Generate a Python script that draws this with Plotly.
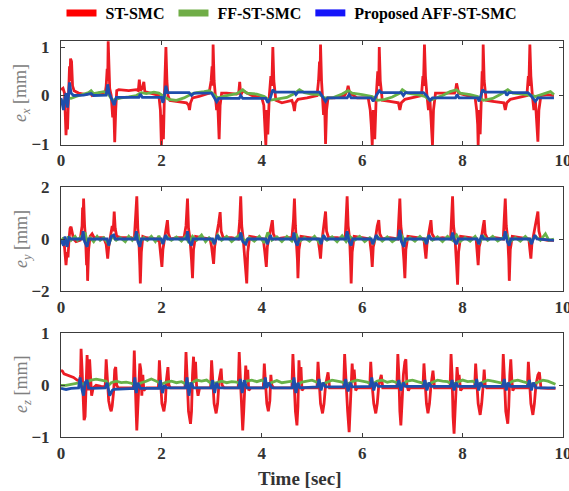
import plotly.graph_objects as go

# ---------------- data ----------------
# e_x panel
ex_red_t = [0.00,0.04,0.07,0.08,0.10,0.115,0.13,0.15,0.17,0.18,0.19,0.21,0.23,0.26,0.35,0.50,0.58,0.62,0.75,0.88,
            0.90,0.92,0.93,0.94,0.955,0.97,1.00,1.03,1.05,1.07,1.09,1.11,1.15,1.35,1.50,1.54,1.56,1.58,1.62,1.65,
            1.67,1.80,1.95,1.98,2.00,2.02,2.04,2.06,2.08,2.09,2.11,2.13,2.17,2.30,2.50,2.54,2.56,2.58,2.62,2.75,
            2.95,2.99,3.01,3.02,3.03,3.05,3.07,3.10,3.12,3.15,3.17,3.20,3.30,3.50,3.54,3.56,3.58,3.62,3.80,4.00,
            4.04,4.06,4.08,4.10,4.12,4.15,4.18,4.20,4.22,4.24,4.28,4.40,4.60,4.63,4.65,4.67,4.72,4.90,5.10,5.13,
            5.15,5.16,5.17,5.19,5.21,5.23,5.25,5.27,5.29,5.32,5.45,5.65,5.70,5.72,5.75,5.90,6.12,6.16,6.18,6.20,
            6.22,6.25,6.28,6.31,6.33,6.34,6.36,6.40,6.55,6.72,6.75,6.78,6.85,7.00,7.18,7.21,7.22,7.24,7.26,7.29,
            7.32,7.35,7.38,7.40,7.42,7.46,7.60,7.84,7.86,7.88,7.92,8.10,8.25,8.28,8.30,8.31,8.33,8.35,8.37,8.39,
            8.40,8.41,8.43,8.47,8.60,8.82,8.85,8.88,8.95,9.10,9.28,9.31,9.32,9.34,9.36,9.39,9.42,9.45,9.48,9.50,
            9.52,9.56,9.70,9.82]
ex_red_v = [0.12,0.15,0.05,-0.3,-0.82,-0.4,-0.7,0.0,0.6,0.3,0.76,0.7,0.2,0.1,0.05,0.02,0.06,0.0,0.05,0.05,
            0.2,0.55,0.3,1.12,0.4,0.15,0.0,-0.45,-0.2,-0.96,-0.3,0.1,0.12,0.1,0.12,0.1,0.33,0.1,0.15,0.28,
            0.08,0.05,0.0,-0.3,-1.02,-0.4,-0.9,0.0,0.6,1.0,0.3,0.0,-0.1,-0.12,-0.15,-0.2,-0.3,-0.15,-0.05,-0.02,
            0.05,0.3,0.6,0.2,1.05,0.3,0.0,-0.3,-0.1,-0.9,-0.2,0.05,0.05,0.03,0.05,0.28,0.0,0.1,0.0,-0.05,
            -0.2,-0.5,-1.02,-0.3,-0.8,0.0,0.4,0.2,1.0,0.3,-0.1,-0.15,-0.1,-0.2,-0.32,-0.15,-0.08,-0.05,0.0,0.3,
            0.7,0.3,1.05,0.3,0.0,-0.4,-0.1,-1.0,-0.3,-0.05,-0.05,0.0,0.1,0.2,0.05,-0.05,-0.05,-0.3,-0.6,-1.02,
            -0.3,-0.9,0.0,0.5,0.2,1.0,0.3,-0.1,-0.12,-0.15,-0.3,-0.15,-0.08,-0.05,0.0,0.4,0.2,1.05,0.4,0.0,
            -0.3,-0.1,-0.6,-1.02,-0.3,0.05,0.05,0.05,0.1,0.25,0.05,0.0,-0.05,-0.3,-0.6,-1.02,-0.3,-0.8,0.0,0.5,
            0.2,1.05,0.3,-0.1,-0.12,-0.15,-0.3,-0.15,-0.08,-0.05,0.0,0.4,0.2,1.05,0.4,0.0,-0.3,-0.1,-0.5,-0.95,
            -0.3,0.0,0.02,0.0]

ex_green_t = [0,0.08,0.12,0.2,0.3,0.45,0.55,0.6,0.65,0.75,0.85,0.95,1.02,1.08,1.2,1.35,1.5,1.6,1.7,1.85,
              1.95,2.05,2.15,2.3,2.45,2.6,2.7,2.85,2.95,3.05,3.12,3.3,3.5,3.62,3.7,3.9,4.05,4.15,4.3,4.5,
              4.65,4.75,4.85,5.0,5.15,5.25,5.4,5.6,5.72,5.8,6.0,6.2,6.3,6.45,6.6,6.75,6.8,6.9,7.1,7.25,
              7.35,7.45,7.6,7.75,7.88,7.95,8.15,8.3,8.42,8.6,8.75,8.9,9.0,9.2,9.35,9.45,9.6,9.75,9.82]
ex_green_v = [-0.1,-0.12,-0.05,-0.06,-0.02,0.03,0.06,0.1,0.04,0.06,0.08,0.02,-0.1,-0.08,-0.05,-0.03,0.0,0.06,0.04,0.07,
              0.05,-0.02,-0.08,-0.1,-0.05,0.03,0.06,0.08,0.1,0.02,-0.05,0.0,0.04,0.12,0.05,0.03,-0.02,-0.1,-0.08,-0.04,
              0.04,0.12,0.06,0.03,0.02,-0.05,-0.05,0.03,0.1,0.05,0.02,-0.02,-0.1,-0.08,-0.03,0.05,0.12,0.05,0.02,-0.02,
              -0.1,-0.06,0.0,0.08,0.12,0.05,0.02,-0.02,-0.1,-0.06,0.02,0.12,0.05,0.03,0.0,-0.02,0.03,0.08,0.02]

ex_blue_t = [0,0.05,0.07,0.10,0.13,0.17,0.20,0.25,0.45,0.60,0.65,0.90,0.93,0.96,1.00,1.06,1.10,1.55,1.58,1.62,
             2.00,2.03,2.06,2.09,2.12,2.55,2.60,2.65,3.00,3.05,3.10,3.14,3.55,3.58,3.62,4.08,4.12,4.17,4.22,4.26,
             4.65,4.68,4.72,5.15,5.18,5.22,5.27,5.31,5.70,5.74,5.78,6.18,6.22,6.28,6.34,6.38,6.78,6.82,6.86,7.22,
             7.28,7.35,7.40,7.86,7.89,7.93,8.30,8.33,8.37,8.40,8.44,8.85,8.88,8.92,9.30,9.36,9.45,9.50,9.82]
ex_blue_v = [-0.05,-0.3,-0.1,0.05,-0.25,0.27,0.05,0.0,0.01,0.04,0.0,0.01,0.23,0.05,-0.05,-0.2,-0.04,-0.04,0.03,-0.04,
             -0.04,-0.15,0.0,0.2,0.06,0.06,0.0,0.05,0.05,-0.05,-0.13,-0.06,-0.06,0.0,-0.06,-0.06,-0.15,-0.05,0.12,0.07,
             0.07,0.02,0.07,0.07,0.02,-0.05,-0.12,-0.05,-0.05,0.02,-0.05,-0.05,-0.12,0.0,0.1,0.06,0.06,0.0,0.06,0.06,
             0.0,-0.1,-0.05,-0.05,0.02,-0.05,-0.05,-0.12,0.0,0.12,0.07,0.07,0.0,0.06,0.06,0.0,-0.12,-0.05,-0.05]

# e_y panel
ey_red_t = [0,0.04,0.07,0.09,0.10,0.12,0.14,0.16,0.18,0.20,0.22,0.25,0.30,0.38,0.42,0.43,0.44,0.45,0.47,0.49,
            0.51,0.52,0.53,0.55,0.58,0.62,0.66,0.85,0.90,0.92,0.93,0.95,0.98,1.02,1.04,1.06,1.08,1.11,1.20,1.40,
            1.46,1.48,1.50,1.51,1.53,1.55,1.57,1.58,1.60,1.63,1.70,1.90,1.96,1.98,2.01,2.03,2.06,2.09,2.12,2.14,
            2.18,2.30,2.45,2.49,2.51,2.52,2.54,2.57,2.60,2.62,2.64,2.68,2.80,2.97,3.00,3.04,3.06,3.10,3.14,3.17,
            3.19,3.23,3.40,3.53,3.56,3.58,3.60,3.63,3.67,3.70,3.72,3.76,3.90,4.03,4.06,4.09,4.11,4.15,4.18,4.21,
            4.23,4.28,4.45,4.60,4.63,4.65,4.67,4.69,4.71,4.72,4.74,4.78,4.95,5.12,5.15,5.17,5.19,5.22,5.25,5.27,
            5.29,5.33,5.50,5.66,5.68,5.70,5.72,5.75,5.77,5.78,5.80,5.84,6.00,6.15,6.18,6.20,6.22,6.27,6.30,6.33,
            6.35,6.40,6.55,6.71,6.73,6.75,6.77,6.80,6.83,6.85,6.87,6.91,7.10,7.23,7.25,7.27,7.29,7.33,7.37,7.39,
            7.45,7.60,7.76,7.78,7.80,7.82,7.85,7.88,7.90,7.92,7.96,8.15,8.27,8.29,8.31,8.33,8.38,8.41,8.43,8.45,
            8.50,8.65,8.81,8.83,8.85,8.87,8.90,8.92,8.93,8.95,8.99,9.15,9.32,9.34,9.36,9.38,9.43,9.47,9.50,9.52,
            9.56,9.70,9.82]
ey_red_v = [-0.1,-0.05,-0.3,-0.9,-1.0,-0.5,-0.7,0.0,0.4,0.47,0.3,0.0,-0.1,-0.05,0.5,1.2,0.6,1.55,0.5,0.0,
            -1.0,-0.5,-1.6,-0.4,0.1,0.2,0.05,0.05,-0.2,-0.5,-0.75,-0.3,0.0,0.5,0.3,1.05,0.4,0.1,0.05,0.05,
            0.0,0.6,0.9,1.63,0.4,0.0,-1.0,-1.7,-0.5,0.1,0.05,0.0,-0.1,-0.5,-1.07,-0.4,0.0,0.4,0.72,0.2,
            0.0,0.05,0.05,0.5,1.1,1.55,0.4,0.0,-0.8,-1.5,-0.4,0.1,0.05,0.0,-0.3,-0.95,-0.3,0.1,0.6,1.03,
            0.3,0.05,0.05,0.0,0.7,1.63,0.5,0.0,-0.8,-1.7,-0.5,0.1,0.05,0.0,-0.5,-1.07,-0.3,0.1,0.5,0.72,
            0.2,0.0,0.05,0.05,0.7,1.55,0.5,0.0,-0.8,-1.5,-0.4,0.1,0.05,0.0,-0.4,-0.75,-0.2,0.3,0.6,1.05,
            0.3,0.05,0.05,0.0,0.8,1.63,0.5,0.0,-1.0,-1.7,-0.5,0.1,0.05,0.0,-0.5,-1.07,-0.3,0.1,0.5,0.72,
            0.2,0.0,0.05,0.0,0.8,1.55,0.5,0.0,-0.8,-1.5,-0.4,0.1,0.05,0.0,-0.4,-0.75,-0.2,0.3,0.72,0.2,
            0.0,0.05,0.0,0.8,1.63,0.5,0.0,-1.0,-1.75,-0.5,0.1,0.05,0.0,-0.5,-1.0,-0.3,0.1,0.5,0.72,0.2,
            0.0,0.05,0.0,0.8,1.55,0.5,0.0,-0.8,-1.6,-0.4,0.1,0.05,0.0,-0.4,-0.75,-0.2,0.3,0.6,1.05,0.3,
            0.0,-0.05,-0.05]

ey_green_t = [0,0.05,0.1,0.15,0.2,0.28,0.33,0.38,0.48,0.52,0.58,0.65,0.72,0.78,0.85,0.95,1.02,1.1,1.18,1.28,
              1.35,1.42,1.52,1.58,1.65,1.72,1.8,1.88,1.95,2.02,2.1,2.2,2.3,2.4,2.48,2.55,2.62,2.7,2.8,2.88,
              2.95,3.05,3.12,3.2,3.3,3.4,3.5,3.58,3.65,3.75,3.85,3.95,4.05,4.12,4.2,4.3,4.4,4.5,4.6,4.68,
              4.75,4.85,4.95,5.05,5.15,5.22,5.3,5.4,5.5,5.6,5.68,5.75,5.85,5.95,6.05,6.15,6.22,6.3,6.4,6.5,
              6.6,6.7,6.78,6.85,6.95,7.05,7.15,7.25,7.32,7.4,7.5,7.6,7.7,7.8,7.88,7.95,8.05,8.15,8.25,8.33,
              8.42,8.5,8.6,8.7,8.8,8.88,8.95,9.05,9.15,9.25,9.35,9.45,9.55,9.65,9.72,9.82]
ey_green_v = [-0.1,0.05,-0.15,0.1,-0.05,0.1,-0.05,0.05,0.25,-0.1,0.05,-0.1,0.1,-0.05,0.05,-0.2,0.1,-0.05,0.05,-0.1,
              0.1,-0.05,0.2,-0.1,0.05,-0.05,0.1,-0.1,0.12,-0.15,0.1,-0.05,0.08,-0.08,0.1,-0.15,0.1,-0.05,0.15,-0.1,
              0.05,-0.15,0.15,-0.05,0.1,-0.1,0.05,0.2,-0.1,0.05,-0.08,0.1,-0.15,0.25,-0.05,0.08,-0.1,0.1,-0.08,0.2,
              -0.1,0.05,-0.08,0.1,-0.15,0.1,-0.05,0.08,-0.1,0.12,-0.1,0.1,-0.05,0.1,-0.1,0.05,-0.15,0.1,-0.08,0.08,
              -0.1,0.05,0.15,-0.1,0.05,-0.08,0.1,-0.1,0.1,-0.05,0.08,-0.1,0.1,-0.05,0.15,-0.1,0.05,-0.08,0.1,-0.15,
              0.1,-0.05,0.1,-0.08,0.05,0.15,-0.1,0.05,-0.08,0.1,-0.1,0.1,-0.05,0.2,-0.05,0.0]

ey_blue_t = [0,0.05,0.08,0.12,0.16,0.2,0.42,0.44,0.47,0.52,0.55,0.92,0.95,1.0,1.05,1.08,1.48,1.50,1.53,1.57,
             1.60,2.0,2.03,2.08,2.12,2.50,2.52,2.55,2.60,2.63,3.02,3.05,3.12,3.15,3.56,3.58,3.62,3.68,3.72,4.08,
             4.11,4.17,4.20,4.62,4.64,4.67,4.71,4.74,5.15,5.18,5.23,5.27,5.67,5.70,5.74,5.78,5.81,6.18,6.21,6.28,
             6.32,6.72,6.75,6.78,6.83,6.86,7.25,7.28,7.33,7.37,7.77,7.80,7.84,7.88,7.91,8.29,8.32,8.38,8.42,8.82,
             8.85,8.89,8.93,8.96,9.34,9.37,9.44,9.48,9.82]
ey_blue_v = [-0.05,-0.25,0.1,-0.3,0.05,0.0,0.0,0.3,-0.1,-0.3,0.0,0.0,-0.25,0.1,0.15,0.0,0.0,0.3,-0.1,-0.3,
             0.0,0.0,-0.2,0.15,0.0,0.0,0.3,-0.1,-0.25,0.0,0.0,-0.2,0.15,0.0,0.0,0.25,-0.1,-0.2,0.0,0.0,
             -0.2,0.15,0.0,0.0,0.25,-0.1,-0.25,0.0,0.0,-0.2,0.15,0.0,0.0,0.3,-0.1,-0.25,0.0,0.0,-0.2,0.15,
             0.0,0.0,0.35,-0.1,-0.3,0.0,0.0,-0.2,0.15,0.0,0.0,0.25,-0.1,-0.2,0.0,0.0,-0.2,0.15,0.0,0.0,
             0.3,-0.1,-0.25,0.0,0.0,-0.2,0.15,0.0,-0.05]

# e_z panel
ez_red_t = [0.00,0.03,0.06,0.12,0.18,0.25,0.32,0.37,0.39,0.40,0.42,0.44,0.46,0.48,0.50,0.52,0.54,0.55,0.57,0.59,
            0.61,0.64,0.70,0.80,0.88,0.90,0.92,0.95,0.98,1.00,1.02,1.05,1.07,1.09,1.11,1.14,1.30,1.44,1.46,1.48,
            1.50,1.51,1.53,1.55,1.57,1.59,1.61,1.63,1.65,1.70,1.94,1.96,1.98,2.01,2.05,2.08,2.10,2.13,2.15,2.18,
            2.47,2.49,2.51,2.54,2.58,2.60,2.62,2.64,2.66,2.68,2.70,2.73,2.76,2.98,3.00,3.02,3.05,3.09,3.12,3.15,
            3.19,3.21,3.25,3.53,3.55,3.57,3.60,3.62,3.64,3.66,3.68,3.70,3.72,3.74,3.78,4.03,4.05,4.07,4.10,4.13,
            4.16,4.18,4.20,4.24,4.60,4.62,4.64,4.67,4.70,4.72,4.74,4.76,4.78,4.80,4.84,5.10,5.12,5.14,5.17,5.21,
            5.24,5.27,5.30,5.32,5.35,5.63,5.65,5.67,5.71,5.74,5.76,5.78,5.80,5.82,5.84,5.87,5.90,6.15,6.17,6.19,
            6.23,6.27,6.30,6.33,6.36,6.38,6.41,6.69,6.71,6.73,6.75,6.77,6.79,6.82,6.85,6.87,6.89,6.92,6.95,7.21,
            7.23,7.25,7.28,7.31,7.34,7.37,7.39,7.41,7.44,7.75,7.77,7.79,7.81,7.83,7.85,7.87,7.89,7.91,7.93,7.96,
            8.00,8.24,8.26,8.28,8.31,8.35,8.38,8.41,8.43,8.45,8.48,8.79,8.81,8.83,8.86,8.90,8.92,8.94,8.96,8.98,
            9.00,9.03,9.29,9.31,9.33,9.36,9.40,9.43,9.46,9.50,9.53,9.56,9.70,9.85]
ez_red_v = [0.29,0.27,0.22,0.2,0.17,0.15,0.1,0.08,0.2,0.7,0.3,-0.3,-0.67,-0.6,0.2,0.58,0.1,-0.1,0.5,0.1,
            -0.2,-0.05,0.0,-0.02,-0.03,0.5,0.1,-0.3,-0.45,-0.5,-0.4,-0.1,0.3,0.35,0.0,-0.05,-0.05,-0.05,0.67,0.2,
            -0.6,-0.87,-0.5,0.1,0.42,0.3,-0.2,0.2,-0.1,-0.05,-0.05,0.48,0.1,-0.35,-0.5,-0.3,0.1,0.35,0.0,-0.05,
            -0.05,0.64,0.2,-0.5,-0.74,-0.5,0.2,0.55,0.1,0.45,0.0,-0.2,-0.05,-0.05,0.48,0.1,-0.35,-0.54,-0.35,0.1,
            0.32,0.0,-0.05,-0.05,0.64,0.2,-0.6,-0.87,-0.5,0.1,0.38,0.1,0.3,-0.1,-0.05,-0.05,0.42,0.1,-0.35,-0.5,
            -0.3,0.2,0.0,-0.05,-0.05,0.6,0.2,-0.5,-0.77,-0.4,0.48,0.1,0.35,-0.1,-0.05,-0.05,0.45,0.1,-0.35,-0.54,
            -0.35,0.0,0.2,0.25,-0.05,-0.05,0.6,0.2,-0.5,-0.9,-0.5,0.1,0.42,0.1,0.3,-0.1,-0.05,-0.05,0.45,0.1,
            -0.35,-0.54,-0.35,0.0,0.15,0.2,-0.05,-0.05,0.6,0.2,-0.5,-0.77,-0.4,0.2,0.45,0.5,0.0,-0.1,-0.05,-0.05,
            0.42,0.1,-0.35,-0.54,-0.35,0.0,0.2,0.28,-0.05,-0.05,0.6,0.2,-0.6,-0.93,-0.5,0.1,0.35,0.1,0.2,-0.1,
            -0.05,-0.05,0.42,0.1,-0.35,-0.57,-0.35,0.0,0.3,0.0,-0.05,-0.05,0.6,0.2,-0.5,-0.74,-0.4,0.2,0.5,0.1,
            -0.1,-0.05,-0.05,0.45,0.1,-0.35,-0.57,-0.35,0.0,0.2,0.25,-0.05,-0.06,-0.06]

ez_green_t = [0,0.1,0.2,0.3,0.38,0.45,0.5,0.6,0.7,0.8,0.9,0.95,1.0,1.1,1.2,1.3,1.4,1.5,1.6,1.7,
              1.8,1.9,2.0,2.1,2.2,2.3,2.4,2.5,2.6,2.7,2.8,2.9,3.0,3.1,3.2,3.3,3.4,3.5,3.6,3.7,
              3.8,3.9,4.0,4.1,4.2,4.3,4.4,4.5,4.6,4.7,4.8,4.9,5.0,5.1,5.2,5.3,5.4,5.5,5.6,5.7,
              5.8,5.9,6.0,6.1,6.2,6.3,6.4,6.5,6.6,6.7,6.8,6.9,7.0,7.1,7.2,7.3,7.4,7.5,7.6,7.7,
              7.8,7.9,8.0,8.1,8.2,8.3,8.4,8.5,8.6,8.7,8.8,8.9,9.0,9.1,9.2,9.3,9.4,9.5,9.6,9.7,
              9.8,9.85]
ez_green_v = [0.0,0.0,0.02,0.03,0.05,0.02,0.06,0.1,0.12,0.1,0.08,0.0,0.05,0.08,0.05,0.06,0.04,0.0,0.05,0.08,
              0.12,0.08,0.02,0.06,0.08,0.05,0.07,0.02,0.04,0.1,0.08,0.1,0.03,0.05,0.08,0.05,0.07,0.06,0.02,0.08,
              0.1,0.07,0.1,0.02,0.06,0.09,0.05,0.07,0.08,0.0,0.06,0.08,0.1,0.06,0.02,0.06,0.1,0.08,0.06,0.02,
              0.07,0.1,0.08,0.06,0.02,0.08,0.1,0.06,0.08,0.05,0.02,0.08,0.1,0.07,0.05,0.02,0.06,0.1,0.08,0.07,
              0.02,0.06,0.1,0.07,0.08,0.02,0.06,0.1,0.08,0.06,0.05,0.02,0.08,0.1,0.07,0.05,0.02,0.06,0.1,0.08,
              0.04,0.02]

ez_blue_t = [0,0.1,0.2,0.35,0.38,0.41,0.45,0.48,0.52,0.55,0.62,0.88,0.92,0.97,1.02,1.05,1.45,1.47,1.50,1.53,
             1.58,1.95,1.98,2.02,2.06,2.10,2.48,2.51,2.55,2.59,2.64,2.99,3.02,3.06,3.10,3.14,3.54,3.57,3.61,3.65,
             3.70,4.04,4.07,4.10,4.14,4.20,4.61,4.64,4.68,4.72,4.76,5.11,5.14,5.18,5.22,5.27,5.64,5.67,5.72,5.76,
             5.80,6.16,6.19,6.23,6.27,6.32,6.70,6.73,6.77,6.82,6.86,7.22,7.25,7.29,7.33,7.37,7.76,7.79,7.83,7.87,
             7.91,8.25,8.28,8.32,8.36,8.40,8.80,8.83,8.87,8.91,8.95,9.30,9.33,9.37,9.41,9.46,9.85]
ez_blue_v = [-0.06,-0.08,-0.06,-0.05,0.15,-0.05,-0.2,0.05,0.1,-0.05,-0.06,-0.05,0.05,-0.2,-0.1,-0.08,-0.06,0.15,-0.15,0.05,
             -0.06,-0.06,0.1,-0.15,0.0,-0.05,-0.05,0.15,-0.2,0.05,-0.05,-0.05,0.1,-0.15,0.05,-0.05,-0.05,0.12,-0.15,0.1,
             -0.05,-0.05,0.15,-0.05,0.05,-0.05,-0.05,0.15,-0.15,0.05,-0.05,-0.03,0.12,-0.1,0.05,-0.03,-0.03,0.12,-0.12,0.05,
             -0.03,-0.02,0.15,-0.1,0.05,-0.02,-0.02,0.1,-0.1,0.05,-0.02,-0.02,0.1,-0.1,0.05,-0.02,-0.02,0.1,-0.1,0.05,
             -0.02,-0.02,0.12,-0.1,0.05,-0.02,-0.02,0.12,-0.1,0.05,-0.02,-0.02,0.1,-0.1,0.05,-0.05,-0.05]

series_names = ["ST-SMC", "FF-ST-SMC", "Proposed AFF-ST-SMC"]
x_ticks = [0, 2, 4, 6, 8, 10]
panel_labels = ["<i>e</i><sub><i>x</i></sub> [mm]", "<i>e</i><sub><i>y</i></sub> [mm]", "<i>e</i><sub><i>z</i></sub> [mm]"]
y_ranges = [[-1.02, 1.13], [-2, 2], [-1, 1]]
y_ticks = [[-1, 0, 1], [-2, 0, 2], [-1, 0, 1]]

# ---------------- styling ----------------
RED = "rgb(236,28,36)"
GREEN = "rgb(104,178,72)"
BLUE = "rgb(30,78,172)"
LEG_COLORS = ["rgb(255,0,0)", "rgb(112,173,71)", "rgb(20,20,250)"]
FONT = "Liberation Serif, Times New Roman, serif"
AX = "#3c3c3c"
NB = "\u00a0"

W, H = 569, 491
ML, MR, MT, MB = 61, 6, 40, 53
PH = H - MT - MB
PW = W - ML - MR

def dom(top_px, bot_px):
    return [(H - MB - bot_px) / PH, (H - MB - top_px) / PH]

domains = [dom(40.7, 145.0), dom(186.7, 291.3), dom(333.3, 437.3)]

fig = go.Figure()
panels = [
    (ex_red_t, ex_red_v, ex_green_t, ex_green_v, ex_blue_t, ex_blue_v),
    (ey_red_t, ey_red_v, ey_green_t, ey_green_v, ey_blue_t, ey_blue_v),
    (ez_red_t, ez_red_v, ez_green_t, ez_green_v, ez_blue_t, ez_blue_v),
]
for i, (rt, rv, gt, gv, bt, bv) in enumerate(panels):
    xa = "x" if i == 0 else f"x{i+1}"
    ya = "y" if i == 0 else f"y{i+1}"
    for t, v, c in ((rt, rv, RED), (gt, gv, GREEN), (bt, bv, BLUE)):
        fig.add_trace(go.Scatter(x=t, y=v, mode="lines", xaxis=xa, yaxis=ya,
                                 line=dict(color=c, width=2.8), showlegend=False,
                                 hoverinfo="skip"))

# legend entries
for name, c in zip(series_names, LEG_COLORS):
    fig.add_trace(go.Scatter(x=[None], y=[None], mode="lines", name=NB + name + NB,
                             line=dict(color=c, width=7), showlegend=True))

layout = dict(
    width=W, height=H,
    margin=dict(l=ML, r=MR, t=MT, b=MB, autoexpand=False),
    paper_bgcolor="white", plot_bgcolor="white",
    showlegend=True,
    legend=dict(orientation="h", x=(294 - ML) / PW, xanchor="center",
                y=(H - MB - 13) / PH, yanchor="middle",
                font=dict(family=FONT, size=16, color="black", weight="bold"),
                itemwidth=30, bgcolor="rgba(0,0,0,0)", tracegroupgap=0),
)
for i in range(3):
    xk = "xaxis" if i == 0 else f"xaxis{i+1}"
    yk = "yaxis" if i == 0 else f"yaxis{i+1}"
    ya = "y" if i == 0 else f"y{i+1}"
    xa = "x" if i == 0 else f"x{i+1}"
    layout[xk] = dict(domain=[0, 1], anchor=ya, range=[0, 10], tickvals=x_ticks,
                      ticks="inside", ticklen=4, tickcolor=AX, showline=True, linecolor=AX,
                      linewidth=1, mirror="allticks", showgrid=False, zeroline=False,
                      ticklabeloverflow="allow", automargin=False,
                      tickfont=dict(family=FONT, size=17, color="#333333", weight="bold"))
    layout[yk] = dict(domain=domains[i], anchor=xa, range=y_ranges[i], tickvals=y_ticks[i],
                      ticks="inside", ticklen=4, tickcolor=AX, showline=True, linecolor=AX,
                      linewidth=1, mirror="allticks", showgrid=False, zeroline=False,
                      ticklabelstandoff=7, ticklabeloverflow="allow", automargin=False,
                      tickfont=dict(family=FONT, size=17, color="#333333", weight="bold"))
fig.update_layout(**layout)

centers = [93, 239, 385]
for lab, cy in zip(panel_labels, centers):
    fig.add_annotation(text=lab, xref="paper", yref="paper",
                       x=(22 - ML) / PW, y=(H - MB - cy) / PH,
                       xanchor="center", yanchor="middle", textangle=-90, showarrow=False,
                       font=dict(family=FONT, size=18, color="#808080"))
fig.add_annotation(text="Time [sec]", xref="paper", yref="paper",
                   x=(300 - ML) / PW, y=(H - MB - 478) / PH,
                   xanchor="center", yanchor="middle", showarrow=False,
                   font=dict(family=FONT, size=19, color="#333333", weight="bold"))

fig.write_html("out.html", config={"displayModeBar": False},
               post_script="document.body.style.margin='0';document.body.style.padding='0';")
